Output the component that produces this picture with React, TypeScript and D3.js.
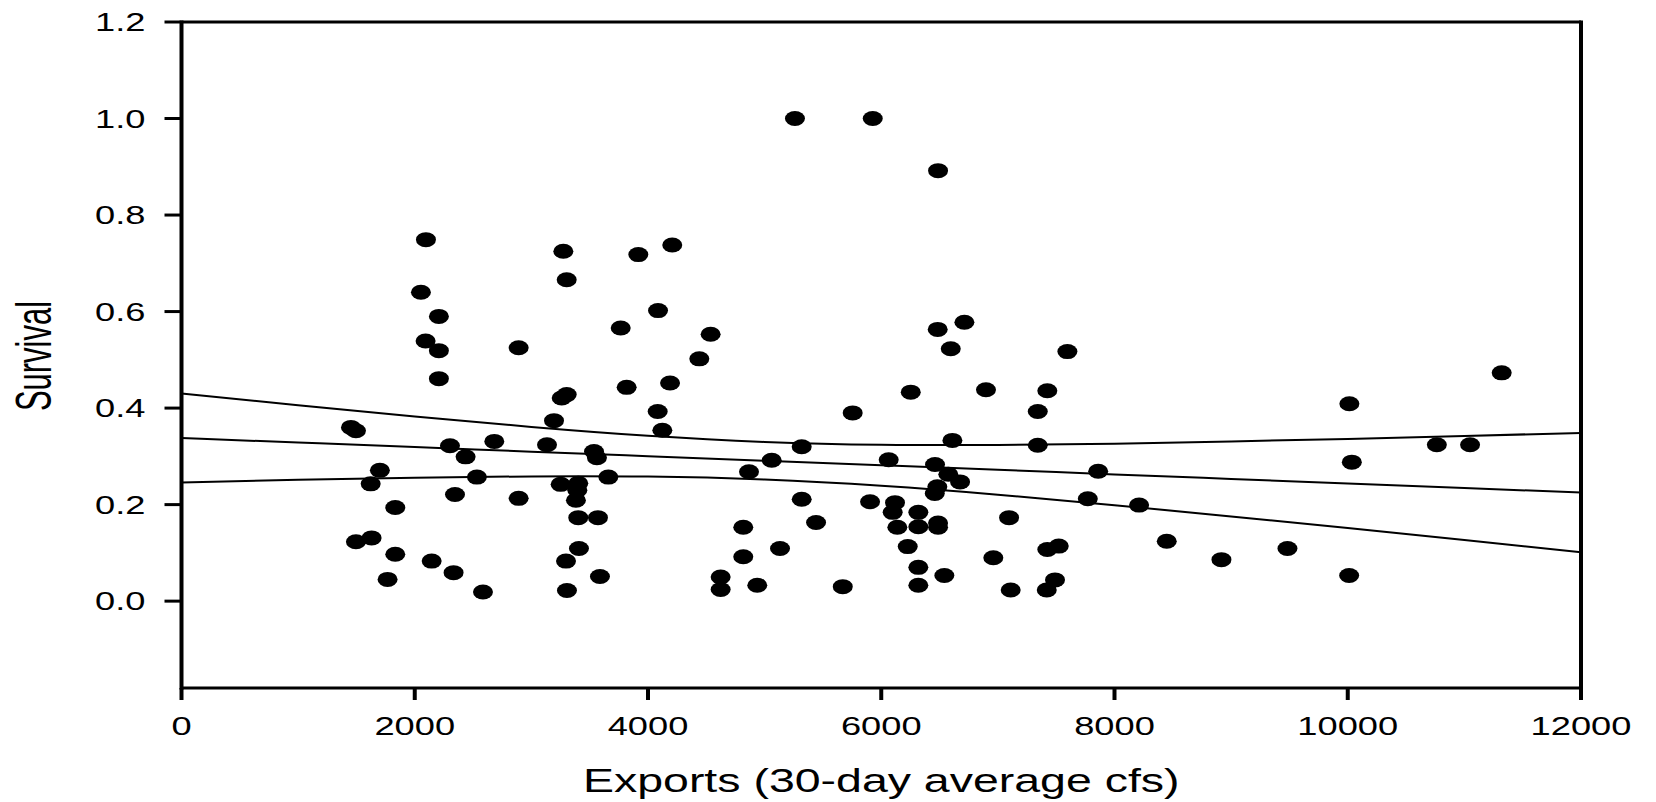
import * as d3 from "d3";

// Exports (30-day average cfs) and survival for each release
const exportsCfs = [
  5260, 5927, 6487,
  2096, 3274, 3917, 4208, 3303, 2053, 2207, 4086, 3766, 4537, 2093, 2207, 2891, 4440, 2207, 3817,
  4189, 3303, 3260, 4083, 3194, 4123, 1453, 1496, 2302, 2682, 3134, 3537, 3562, 2436, 1701, 1622,
  2533, 3660, 3251, 3402, 3394, 3382, 2345, 2891, 1833, 3402, 3571, 1496, 1630, 1833, 3408, 2145,
  3297, 2333, 3588, 1767, 2585, 3305,
  6484, 6713, 6596, 7596, 6253, 6898, 7424, 5755, 7342, 6610, 7342, 5318, 5061, 6064, 6461, 6575,
  6676, 7860, 4866, 6481, 6459, 7771, 5318, 5904, 6118, 6098, 6318, 6318, 6487, 6487, 6138, 4817,
  5441, 7096, 5132, 4817, 6227, 6961, 7424, 7522, 4623, 4623, 4937, 5670, 6318, 6318, 6541, 7110,
  7419, 7490,
  8211, 8448, 8917, 9483, 10014, 10035, 10012, 10764, 11049, 11320,
];
const survival = [
  1.0, 1.0, 0.892,
  0.749, 0.725, 0.718, 0.738, 0.666, 0.64, 0.59, 0.602, 0.566, 0.553, 0.539, 0.519, 0.525, 0.502, 0.461, 0.443,
  0.452, 0.428, 0.421, 0.393, 0.374, 0.354, 0.36, 0.353, 0.322, 0.331, 0.324, 0.31, 0.297, 0.299, 0.271, 0.243,
  0.257, 0.257, 0.242, 0.244, 0.23, 0.209, 0.221, 0.213, 0.194, 0.173, 0.173, 0.123, 0.131, 0.097, 0.109, 0.083,
  0.083, 0.059, 0.051, 0.045, 0.019, 0.022,
  0.563, 0.578, 0.523, 0.517, 0.433, 0.438, 0.436, 0.39, 0.393, 0.333, 0.323, 0.32, 0.292, 0.293, 0.283, 0.263,
  0.247, 0.269, 0.268, 0.237, 0.223, 0.212, 0.211, 0.206, 0.204, 0.184, 0.184, 0.154, 0.162, 0.153, 0.153, 0.153,
  0.163, 0.173, 0.109, 0.092, 0.113, 0.09, 0.107, 0.114, 0.05, 0.024, 0.033, 0.03, 0.07, 0.033, 0.053, 0.023,
  0.023, 0.044,
  0.199, 0.124, 0.086, 0.109, 0.409, 0.288, 0.053, 0.324, 0.324, 0.473,
];

// regression line and its confidence band, read at every 1000 cfs
const bandX = [0, 1000, 2000, 3000, 4000, 5000, 6000, 7000, 8000, 9000, 10000, 11000, 12000];
const fitY = [0.338, 0.3286, 0.3192, 0.3097, 0.3003, 0.2909, 0.2815, 0.2721, 0.2626, 0.2532, 0.2438, 0.2344, 0.225];
const upperY = [0.43, 0.4058, 0.3825, 0.3609, 0.3426, 0.3299, 0.324, 0.3236, 0.3263, 0.3308, 0.3362, 0.3422, 0.3485];
const lowerY = [0.246, 0.2514, 0.2559, 0.2585, 0.258, 0.2519, 0.239, 0.2206, 0.1989, 0.1756, 0.1514, 0.1266, 0.1015];

const xTicks = [0, 2000, 4000, 6000, 8000, 10000, 12000];
const yTicks = [0, 0.2, 0.4, 0.6, 0.8, 1.0, 1.2];

const font = "'Liberation Sans', Arial, sans-serif";

export default function App() {
  const width = 1656;
  const height = 802;
  const left = 181.5, right = 1581, top = 22, bottom = 688;
  const x = d3.scaleLinear([0, 12000], [left, right]);
  const y = d3.scaleLinear([-0.18, 1.2], [bottom, top]);

  const band = (vals: number[]) =>
    d3.line<number>()
      .x((_, i) => x(bandX[i]))
      .y((d) => y(d))
      .curve(d3.curveNatural)(vals) ?? "";

  const tickSx = 1.45;
  return (
    <svg width={width} height={height} style={{ position: "absolute", left: 0, top: 0, background: "#fff" }}>
      <g fill="none" stroke="#000">
        <path d={band(upperY)} strokeWidth={2} />
        <path d={band(fitY)} strokeWidth={2} />
        <path d={band(lowerY)} strokeWidth={2} />
      </g>
      <g fill="#000">
        {exportsCfs.map((e, i) => (
          <ellipse key={i} cx={x(e)} cy={y(survival[i])} rx={10} ry={7.5} />
        ))}
      </g>
      {/* frame */}
      <line x1={left} x2={right} y1={top} y2={top} stroke="#000" strokeWidth={3} />
      <line x1={left} x2={right} y1={bottom} y2={bottom} stroke="#000" strokeWidth={3} />
      <line x1={left} x2={left} y1={top - 1.5} y2={bottom + 1.5} stroke="#000" strokeWidth={4} />
      <line x1={right} x2={right} y1={top - 1.5} y2={bottom + 1.5} stroke="#000" strokeWidth={4} />
      {/* y axis */}
      {yTicks.map((t) => (
        <g key={t}>
          <line x1={left - 17} x2={left} y1={y(t)} y2={y(t)} stroke="#000" strokeWidth={3} />
          <text
            transform={`translate(${left - 36},${y(t)}) scale(${tickSx},1)`}
            dy="0.36em"
            textAnchor="end"
            fontFamily={font}
            fontSize={25}
          >
            {t.toFixed(1)}
          </text>
        </g>
      ))}
      {/* x axis */}
      {xTicks.map((t) => (
        <g key={t}>
          <line x1={x(t)} x2={x(t)} y1={bottom} y2={bottom + 12} stroke="#000" strokeWidth={4} />
          <text
            transform={`translate(${x(t)},${bottom + 47}) scale(${tickSx},1)`}
            textAnchor="middle"
            fontFamily={font}
            fontSize={25}
          >
            {t}
          </text>
        </g>
      ))}
      <text
        transform={`translate(${(left + right) / 2},792) scale(1.43,1)`}
        textAnchor="middle"
        fontFamily={font}
        fontSize={32.5}
      >
        Exports (30-day average cfs)
      </text>
      <text
        transform="translate(51,356) scale(1.6,1) rotate(-90)"
        textAnchor="middle"
        fontFamily={font}
        fontSize={31}
      >
        Survival
      </text>
    </svg>
  );
}
